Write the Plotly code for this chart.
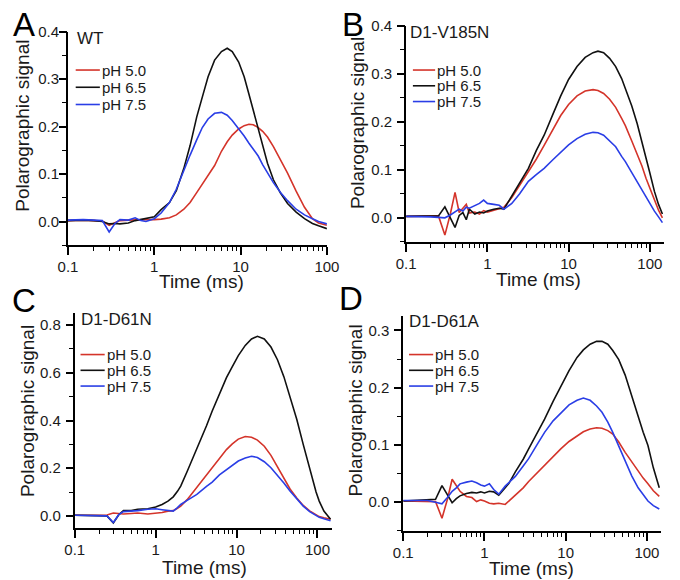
import plotly.graph_objects as go

# ---------------- data ----------------
time_a = [0.1, 0.15, 0.2, 0.25, 0.3, 0.35, 0.4, 0.5, 0.6, 0.7, 0.8, 1.0, 1.2, 1.5, 1.8, 2.2, 2.6, 3.1, 3.6,
          4.2, 5.0, 6.0, 7.0, 8.0, 9.5, 11, 12.5, 14, 16, 18, 20.5, 24, 29, 35, 44, 55, 68, 80, 100]
a_ph50 = [0.002, 0.003, 0.002, 0.001, -0.008, -0.002, 0.002, 0.003, 0.004, 0.004, 0.004, 0.004, 0.005, 0.008,
          0.014, 0.026, 0.040, 0.061, 0.078, 0.096, 0.118, 0.148, 0.168, 0.182, 0.195, 0.202, 0.205, 0.204,
          0.198, 0.190, 0.178, 0.158, 0.130, 0.102, 0.064, 0.030, 0.006, -0.003, -0.008]
a_ph65 = [0.002, 0.003, 0.002, 0.0, -0.005, -0.004, -0.005, -0.003, 0.002, 0.004, 0.007, 0.010, 0.025, 0.040,
          0.065, 0.112, 0.160, 0.220, 0.262, 0.305, 0.340, 0.358, 0.365, 0.358, 0.336, 0.305, 0.268, 0.235,
          0.195, 0.160, 0.123, 0.088, 0.060, 0.038, 0.020, 0.006, -0.004, -0.009, -0.015]
a_ph75 = [0.003, 0.004, 0.003, 0.002, -0.022, -0.004, 0.004, 0.003, 0.008, 0.002, 0.0, 0.006, 0.018, 0.040,
          0.068, 0.109, 0.140, 0.172, 0.198, 0.216, 0.228, 0.230, 0.224, 0.213, 0.196, 0.180, 0.165, 0.153,
          0.138, 0.120, 0.102, 0.082, 0.061, 0.044, 0.026, 0.014, 0.006, 0.0, -0.005]

time_b = [0.1, 0.15, 0.2, 0.25, 0.3, 0.35, 0.4, 0.45, 0.5, 0.55, 0.6, 0.7, 0.8, 0.9, 1.0, 1.2, 1.4, 1.6, 2.0,
          2.5, 3.2, 4.0, 5.0, 6.5, 8.0, 10, 12.7, 16, 20, 23, 27, 32, 38, 45, 50, 60, 70, 80, 90, 100, 114,
          128, 143]
b_ph50 = [0.003, 0.003, 0.003, 0.004, -0.036, 0.008, 0.053, 0.011, 0.020, 0.028, 0.010, 0.012, 0.008, 0.015,
          0.012, 0.016, 0.020, 0.022, 0.042, 0.068, 0.096, 0.122, 0.151, 0.186, 0.213, 0.236, 0.254, 0.264,
          0.267, 0.265, 0.259, 0.247, 0.230, 0.207, 0.192, 0.160, 0.132, 0.108, 0.082, 0.062, 0.035, 0.016,
          0.0]
b_ph65 = [0.003, 0.003, 0.004, 0.004, 0.023, 0.0, -0.020, 0.005, 0.011, -0.004, 0.018, 0.008, 0.012, 0.010,
          0.014, 0.018, 0.020, 0.018, 0.045, 0.072, 0.103, 0.140, 0.172, 0.218, 0.254, 0.288, 0.315, 0.334,
          0.344, 0.347, 0.344, 0.332, 0.315, 0.290, 0.270, 0.233, 0.196, 0.160, 0.124, 0.094, 0.055, 0.028,
          0.008]
b_ph75 = [0.003, 0.003, 0.002, 0.001, 0.0, 0.006, 0.012, 0.018, 0.014, 0.022, 0.020, 0.025, 0.030, 0.037,
          0.030, 0.028, 0.026, 0.018, 0.030, 0.050, 0.076, 0.090, 0.103, 0.122, 0.137, 0.152, 0.165, 0.174,
          0.178, 0.177, 0.172, 0.161, 0.148, 0.128, 0.117, 0.094, 0.075, 0.057, 0.042, 0.030, 0.014, 0.002,
          -0.010]

time_c = [0.1, 0.15, 0.2, 0.25, 0.3, 0.35, 0.4, 0.5, 0.6, 0.8, 1.0, 1.2, 1.42, 1.65, 1.86, 2.04, 2.45, 2.95,
          3.23, 4.25, 5.0, 6.14, 7.5, 8.86, 10.5, 12.8, 15.3, 18.1, 22, 26.6, 32, 38.4, 46, 55.4, 66.6, 80, 96,
          105, 120, 145]
c_ph50 = [0.003, 0.003, 0.003, 0.004, 0.012, 0.010, 0.008, 0.010, 0.012, 0.008, 0.010, 0.014, 0.020, 0.022,
          0.032, 0.041, 0.068, 0.103, 0.120, 0.172, 0.200, 0.240, 0.278, 0.302, 0.322, 0.333, 0.330, 0.318,
          0.292, 0.254, 0.208, 0.158, 0.112, 0.075, 0.044, 0.021, 0.004, -0.003, -0.008, -0.014]
c_ph65 = [0.003, 0.003, 0.002, 0.0, -0.030, 0.005, 0.022, 0.022, 0.028, 0.030, 0.037, 0.048, 0.062, 0.080,
          0.103, 0.125, 0.186, 0.250, 0.282, 0.378, 0.440, 0.515, 0.580, 0.626, 0.672, 0.715, 0.742, 0.753,
          0.742, 0.708, 0.655, 0.584, 0.500, 0.405, 0.300, 0.199, 0.100, 0.062, 0.020, -0.014]
c_ph75 = [0.003, 0.003, 0.002, 0.0, -0.028, 0.005, 0.018, 0.020, 0.022, 0.028, 0.030, 0.026, 0.022, 0.020,
          0.035, 0.048, 0.065, 0.082, 0.090, 0.124, 0.142, 0.172, 0.195, 0.213, 0.230, 0.243, 0.250, 0.245,
          0.227, 0.202, 0.172, 0.138, 0.103, 0.070, 0.041, 0.018, 0.0, -0.006, -0.012, -0.020]

time_d = [0.1, 0.15, 0.2, 0.25, 0.3, 0.35, 0.4, 0.45, 0.5, 0.6, 0.7, 0.8, 0.9, 1.0, 1.15, 1.3, 1.5, 1.8, 2.0,
          2.4, 3.0, 3.5, 4.5, 5.5, 7.0, 8.7, 11, 13.8, 16.5, 20, 24, 28, 33, 38, 45, 54, 65, 78, 90, 103, 120,
          142]
d_ph50 = [0.002, 0.002, 0.002, 0.001, -0.028, 0.005, 0.040, 0.028, 0.019, 0.010, 0.008, 0.001, 0.004, 0.002,
          -0.002, -0.003, -0.002, -0.004, 0.002, 0.013, 0.025, 0.036, 0.052, 0.065, 0.080, 0.093, 0.106, 0.116,
          0.123, 0.128, 0.130, 0.129, 0.125, 0.119, 0.105, 0.087, 0.070, 0.053, 0.042, 0.032, 0.020, 0.010]
d_ph65 = [0.002, 0.003, 0.004, 0.005, 0.029, 0.012, -0.001, 0.006, 0.011, 0.015, 0.017, 0.016, 0.018, 0.016,
          0.019, 0.018, 0.012, 0.025, 0.033, 0.053, 0.075, 0.093, 0.122, 0.145, 0.176, 0.202, 0.230, 0.253,
          0.266, 0.276, 0.281, 0.281, 0.276, 0.265, 0.249, 0.222, 0.185, 0.148, 0.122, 0.099, 0.060, 0.025]
d_ph75 = [0.003, 0.003, 0.003, 0.0, -0.003, 0.008, 0.019, 0.025, 0.032, 0.035, 0.037, 0.034, 0.030, 0.028,
          0.032, 0.022, 0.014, 0.028, 0.034, 0.045, 0.063, 0.076, 0.102, 0.122, 0.142, 0.156, 0.170, 0.178,
          0.182, 0.178, 0.168, 0.157, 0.140, 0.122, 0.098, 0.070, 0.046, 0.025, 0.012, 0.002, -0.006, -0.012]

series_names = ["pH 5.0", "pH 6.5", "pH 7.5"]
panel_titles = ["WT", "D1-V185N", "D1-D61N", "D1-D61A"]
panel_letters = ["A", "B", "C", "D"]
x_tick_vals = [0.1, 1, 10, 100]
x_tick_text = ["0.1", "1", "10", "100"]
x_title = "Time (ms)"
y_title = "Polarographic signal"

# ---------------- styling / layout (pixel positions of the reference) ----------------
W, H = 680, 580
FONT = "Liberation Sans, Arial, Helvetica, sans-serif"
TXT = "#1a1a1a"
COLORS = ["#d4342a", "#111111", "#2a3ee6"]

panels = [
    dict(t=time_a, ys=[a_ph50, a_ph65, a_ph75], xr=[-1, 2], yr=[-0.05, 0.4], ydt=0.1, ymin=0.05,
         px=(60, 328), py=(23, 240), ystand=-3),
    dict(t=time_b, ys=[b_ph50, b_ph65, b_ph75], xr=[-1, 2.176], yr=[-0.05, 0.4], ydt=0.1, ymin=0.05,
         px=(410, 677), py=(17, 236.5), ystand=2),
    dict(t=time_c, ys=[c_ph50, c_ph65, c_ph75], xr=[-1, 2.176], yr=[-0.05, 0.85], ydt=0.2, ymin=0.1,
         px=(67, 333), py=(309, 527), ystand=2),
    dict(t=time_d, ys=[d_ph50, d_ph65, d_ph75], xr=[-1, 2.176], yr=[-0.05, 0.325], ydt=0.1, ymin=0.05,
         px=(407, 674), py=(312, 530), ystand=2),
]
legend_geo = [(68, 93, 62, 17.5), (417, 440, 62, 16), (73, 98, 351, 16), (413, 438, 351, 16)]
title_pos = [(67, 30), (412, 24), (71, 315), (411, 317)]
letter_pos = [(14, 16), (355, 16), (14, 296), (353, 294)]
xtitle_pos = [(198, 277), (547, 275), (201, 567), (540, 568)]
ytitle_pos = [(13, 119), (359, 116), (18, 408), (358, 408)]

minor_x = [m * 10 ** e for e in range(-1, 3) for m in range(2, 10)]

fig = go.Figure()
layout = dict(width=W, height=H, margin=dict(l=0, r=0, t=0, b=0), autosize=False,
              paper_bgcolor="white", plot_bgcolor="white",
              font=dict(family=FONT, color=TXT, size=15), showlegend=False)
annotations = []
shapes = []


def px2x(v):
    return v / W


def px2y(v):
    return 1 - v / H


for i, p in enumerate(panels):
    k = "" if i == 0 else str(i + 1)
    km = str(i + 5)  # overlay axes that only carry the minor ticks
    x0, x1 = p["px"]
    y0, y1 = p["py"]
    xdom = [px2x(x0), px2x(x1)]
    ydom = [px2y(y1), px2y(y0)]
    for j in range(3):
        fig.add_trace(go.Scatter(x=p["t"], y=p["ys"][j], mode="lines", name=series_names[j],
                                 line=dict(color=COLORS[j], width=1.6),
                                 xaxis="x" + k, yaxis="y" + k, showlegend=False))
    fig.add_trace(go.Scatter(x=[], y=[], mode="lines", xaxis="x" + km, yaxis="y" + km,
                             showlegend=False, hoverinfo="skip"))
    layout["xaxis" + k] = dict(
        type="log", range=p["xr"], domain=xdom, anchor="y" + k,
        tickvals=x_tick_vals, ticktext=x_tick_text, ticks="outside", ticklen=8,
        tickwidth=1.6, tickcolor="black", showline=True, linecolor="black", linewidth=1.8,
        showgrid=False, zeroline=False, tickfont=dict(size=15, family=FONT, color=TXT),
        ticklabelstandoff=-1)
    layout["yaxis" + k] = dict(
        range=p["yr"], domain=ydom, anchor="x" + k,
        dtick=p["ydt"], tick0=0, tickformat=".1f", ticks="outside", ticklen=7,
        tickwidth=1.6, tickcolor="black", showline=True, linecolor="black", linewidth=1.8,
        showgrid=False, zeroline=False, tickfont=dict(size=15, family=FONT, color=TXT),
        ticklabelstandoff=p["ystand"])
    layout["xaxis" + km] = dict(
        type="log", range=p["xr"], domain=xdom, anchor="y" + km, overlaying="x" + k, side="bottom",
        tickvals=minor_x, ticks="outside", ticklen=5, tickwidth=1.3, tickcolor="black",
        showticklabels=False, showline=False, showgrid=False, zeroline=False)
    layout["yaxis" + km] = dict(
        range=p["yr"], domain=ydom, anchor="x" + km, overlaying="y" + k, side="left",
        dtick=p["ymin"], tick0=0, ticks="outside", ticklen=5, tickwidth=1.3, tickcolor="black",
        showticklabels=False, showline=False, showgrid=False, zeroline=False)

    lx0, lx1, ly, step = legend_geo[i]
    for j in range(3):
        yy = ly + j * step
        shapes.append(dict(type="line", xref="paper", yref="paper", x0=px2x(lx0), x1=px2x(lx1),
                           y0=px2y(yy), y1=px2y(yy), line=dict(color=COLORS[j], width=1.6)))
        annotations.append(dict(text=series_names[j], xref="paper", yref="paper", x=px2x(lx1),
                                y=px2y(yy), xanchor="left", yanchor="middle", showarrow=False,
                                font=dict(size=15, family=FONT, color=TXT)))

    tx, ty = title_pos[i]
    annotations.append(dict(text=panel_titles[i], xref="paper", yref="paper", x=px2x(tx), y=px2y(ty),
                            xanchor="left", yanchor="middle", showarrow=False,
                            font=dict(size=17, family=FONT, color=TXT)))
    ax, ay = letter_pos[i]
    annotations.append(dict(text=panel_letters[i], xref="paper", yref="paper", x=px2x(ax), y=px2y(ay),
                            xanchor="center", yanchor="middle", showarrow=False,
                            font=dict(size=33, family=FONT, color="black")))
    xx, xy = xtitle_pos[i]
    annotations.append(dict(text=x_title, xref="paper", yref="paper", x=px2x(xx), y=px2y(xy),
                            xanchor="center", yanchor="middle", showarrow=False,
                            font=dict(size=19, family=FONT, color=TXT)))
    yx, yy_ = ytitle_pos[i]
    annotations.append(dict(text=y_title, xref="paper", yref="paper", x=px2x(yx), y=px2y(yy_),
                            xanchor="center", yanchor="middle", showarrow=False, textangle=-90,
                            font=dict(size=19, family=FONT, color=TXT)))

layout["annotations"] = annotations
layout["shapes"] = shapes
fig.update_layout(**layout)
fig.write_html("out.html", config={"displayModeBar": False},
               post_script="document.body.style.margin='0';")
